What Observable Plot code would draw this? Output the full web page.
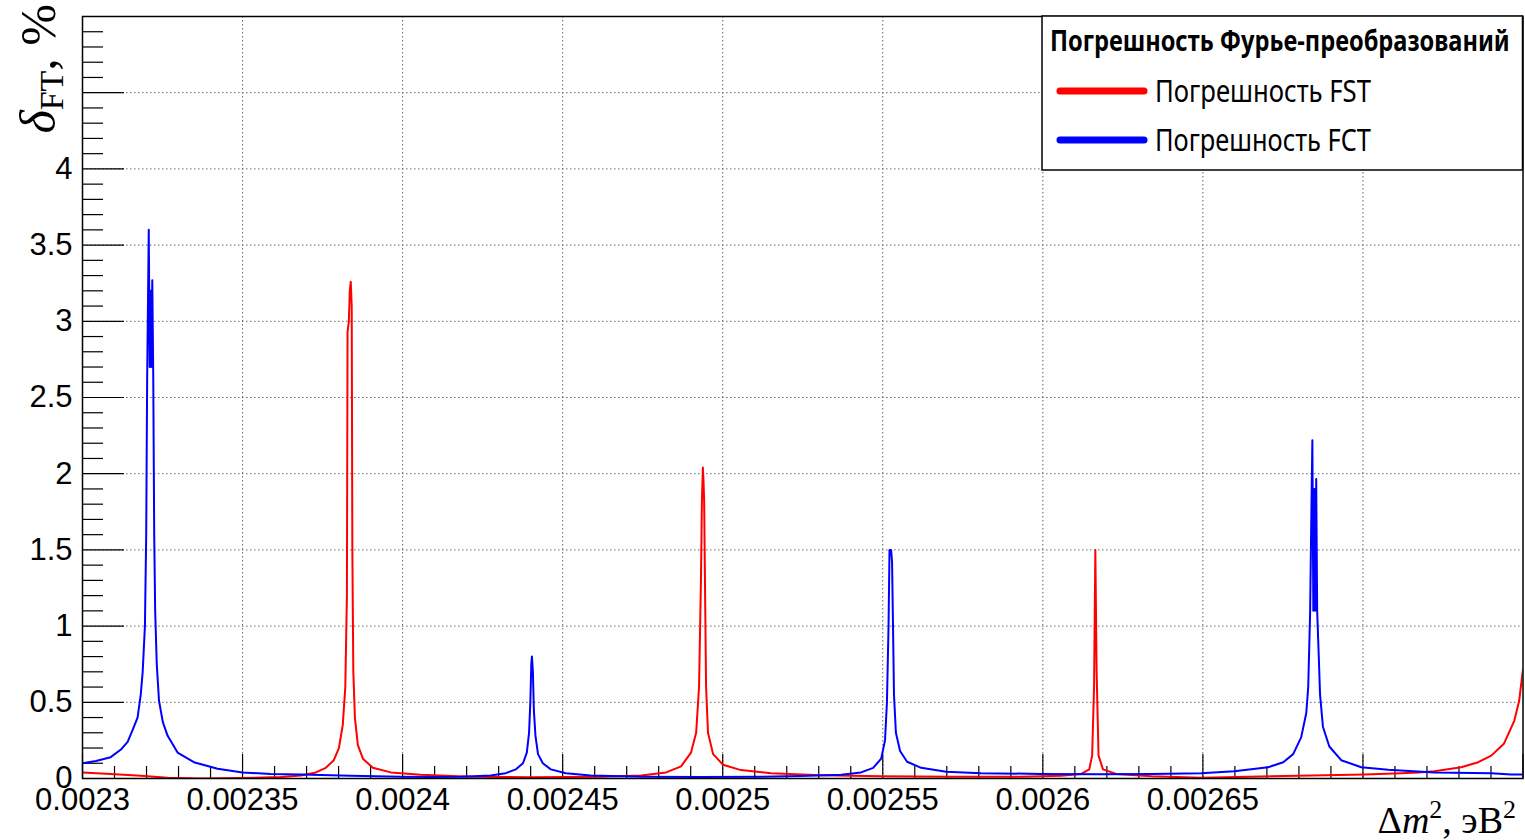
<!DOCTYPE html>
<html><head><meta charset="utf-8">
<script src="https://cdn.jsdelivr.net/npm/d3@7"></script>
<script src="https://cdn.jsdelivr.net/npm/@observablehq/plot@0.6"></script>
<style>html,body{margin:0;padding:0;background:#fff;} #chart{position:relative;width:1525px;height:840px;overflow:hidden;}</style>
</head><body><div id="chart"></div>
<script>
// ---- data ----
const fstX = [0.0023000,0.0023088,0.0023182,0.0023266,0.0023370,0.0023495,0.0023620,0.0023682,0.0023729,0.0023760,0.0023785,0.0023801,0.0023813,0.0023821,0.0023826,0.0023828,0.0023832,0.0023835,0.0023838,0.0023841,0.0023843,0.0023846,0.0023851,0.0023860,0.0023876,0.0023907,0.0023963,0.0024057,0.0024214,0.0024401,0.0024620,0.0024745,0.0024823,0.0024870,0.0024901,0.0024917,0.0024926,0.0024932,0.0024935,0.0024938,0.0024940,0.0024942,0.0024945,0.0024948,0.0024954,0.0024970,0.0025001,0.0025057,0.0025151,0.0025307,0.0025495,0.0025714,0.0025932,0.0026057,0.0026120,0.0026145,0.0026154,0.0026160,0.0026164,0.0026168,0.0026174,0.0026188,0.0026229,0.0026339,0.0026495,0.0026798,0.0027004,0.0027120,0.0027172,0.0027223,0.0027307,0.0027360,0.0027401,0.0027441,0.0027473,0.0027488,0.0027500];
const fstY = [0.04,0.03,0.018,0.005,0.0,0.003,0.01,0.02,0.04,0.07,0.12,0.2,0.35,0.6,1.2,2.93,3.0,3.2,3.26,3.1,1.5,0.7,0.4,0.22,0.13,0.07,0.04,0.025,0.012,0.008,0.012,0.02,0.04,0.08,0.17,0.3,0.6,1.3,1.82,2.04,1.95,1.82,1.2,0.6,0.3,0.16,0.09,0.055,0.035,0.022,0.015,0.012,0.012,0.018,0.03,0.06,0.15,0.6,1.5,0.7,0.15,0.06,0.03,0.015,0.005,0.018,0.026,0.035,0.04,0.048,0.074,0.107,0.15,0.23,0.38,0.51,0.72];

const fctX = [0.0023000,0.0023042,0.0023088,0.0023120,0.0023141,0.0023157,0.0023172,0.0023182,0.0023188,0.0023195,0.0023199,0.0023202,0.0023207,0.0023210,0.0023213,0.0023215,0.0023218,0.0023221,0.0023224,0.0023227,0.0023232,0.0023239,0.0023251,0.0023266,0.0023297,0.0023348,0.0023422,0.0023500,0.0023588,0.0023682,0.0023838,0.0023995,0.0024088,0.0024182,0.0024275,0.0024322,0.0024354,0.0024376,0.0024388,0.0024395,0.0024399,0.0024402,0.0024404,0.0024407,0.0024410,0.0024415,0.0024423,0.0024438,0.0024463,0.0024510,0.0024588,0.0024745,0.0024932,0.0025120,0.0025245,0.0025370,0.0025432,0.0025470,0.0025495,0.0025507,0.0025513,0.0025518,0.0025521,0.0025526,0.0025529,0.0025532,0.0025535,0.0025541,0.0025554,0.0025576,0.0025620,0.0025698,0.0025807,0.0025995,0.0026182,0.0026339,0.0026495,0.0026598,0.0026704,0.0026751,0.0026782,0.0026807,0.0026823,0.0026829,0.0026835,0.0026838,0.0026842,0.0026845,0.0026848,0.0026851,0.0026854,0.0026857,0.0026862,0.0026866,0.0026875,0.0026895,0.0026932,0.0026995,0.0027079,0.0027223,0.0027401,0.0027463,0.0027500];
const fctY = [0.10,0.115,0.14,0.19,0.24,0.32,0.40,0.55,0.70,1.0,1.6,2.63,3.6,2.7,3.2,2.7,3.27,2.65,1.6,1.1,0.75,0.51,0.37,0.28,0.17,0.107,0.064,0.04,0.03,0.026,0.018,0.012,0.01,0.012,0.02,0.035,0.06,0.1,0.17,0.3,0.5,0.75,0.80,0.7,0.45,0.28,0.16,0.1,0.06,0.035,0.02,0.012,0.01,0.012,0.016,0.025,0.04,0.07,0.13,0.25,0.5,1.0,1.5,1.5,1.42,1.0,0.55,0.3,0.18,0.11,0.07,0.045,0.035,0.03,0.028,0.03,0.035,0.048,0.074,0.107,0.16,0.27,0.43,0.6,1.09,1.6,2.22,1.1,1.9,1.1,1.965,1.1,0.8,0.55,0.34,0.21,0.12,0.074,0.057,0.04,0.035,0.026,0.026];

const xTickValues = [0.0023,0.00235,0.0024,0.00245,0.0025,0.00255,0.0026,0.00265];
const xTickLabels = ["0.0023","0.00235","0.0024","0.00245","0.0025","0.00255","0.0026","0.00265"];
const yTickValues = [0,0.5,1,1.5,2,2.5,3,3.5,4];
const yTickLabels = ["0","0.5","1","1.5","2","2.5","3","3.5","4"];
const xGridValues = [0.00235,0.0024,0.00245,0.0025,0.00255,0.0026,0.00265,0.0027];
const yGridValues = [0.5,1,1.5,2,2.5,3,3.5,4,4.5];
const legendTitle = "Погрешность Фурье-преобразований";
const seriesNames = ["Погрешность FST","Погрешность FCT"];
const seriesColors = ["#ff0000","#0000ff"];

// ---- derived ----
const fst = fstX.map((x,i)=>({x, y: fstY[i]}));
const fct = fctX.map((x,i)=>({x, y: fctY[i]}));
const xMajor = d3.range(0,10).map(i => (230 + 5*i)/100000);
const xMinor = d3.range(0,46).map(i => (230 + i)/100000).filter((d,i)=> i%5 !== 0);
const yMajor = d3.range(0,11).map(i => i/2);
const yMinor = d3.range(0,51).map(i => i/10).filter((d,i)=> i%5 !== 0);

const W = 1525, H = 840, mL = 82, mR = 2.5, mT = 16, mB = 62;
const pw = W - mL - mR, ph = H - mT - mB;

const plot = Plot.plot({
  width: W, height: H,
  marginLeft: mL, marginRight: mR, marginTop: mT, marginBottom: mB,
  style: {background: "#fff", fontFamily: "Liberation Sans, Arial, Helvetica, sans-serif", fontSize: "31px", color: "#000"},
  x: {domain: [0.0023, 0.00275], axis: null},
  y: {domain: [0, 5], axis: null},
  marks: [
    Plot.gridX(xGridValues, {stroke: "#666", strokeOpacity: 1, strokeWidth: 1, strokeDasharray: "1.5,2.5"}),
    Plot.gridY(yGridValues, {stroke: "#666", strokeOpacity: 1, strokeWidth: 1, strokeDasharray: "1.5,2.5"}),
    Plot.tickX(xMajor, {x: d => d, insetTop: ph - 24, stroke: "#000", strokeWidth: 1.2}),
    Plot.tickX(xMinor, {x: d => d, insetTop: ph - 12, stroke: "#000", strokeWidth: 1.2}),
    Plot.tickY(yMajor, {y: d => d, insetRight: pw - 42, stroke: "#000", strokeWidth: 1.2}),
    Plot.tickY(yMinor, {y: d => d, insetRight: pw - 21, stroke: "#000", strokeWidth: 1.2}),
    Plot.line(fst, {x: "x", y: "y", stroke: seriesColors[0], strokeWidth: 2, clip: true}),
    Plot.line(fct, {x: "x", y: "y", stroke: seriesColors[1], strokeWidth: 2, clip: true}),
    Plot.frame({stroke: "#000", strokeWidth: 1.5}),
    Plot.text(xTickValues, {x: d => d, frameAnchor: "bottom", lineAnchor: "top", dy: 9, text: d => xTickLabels[xTickValues.indexOf(d)], fontSize: 31}),
    Plot.text(yTickValues, {y: d => d, frameAnchor: "left", textAnchor: "end", dx: -10, text: d => yTickLabels[yTickValues.indexOf(d)], fontSize: 31})
  ]
});
document.getElementById("chart").appendChild(plot);

// ---- axis titles and legend ----
const svg = d3.select(plot);
const serif = "Liberation Serif, DejaVu Serif, Times New Roman, serif";
// y title (rotated)
const yt = svg.append("text").attr("transform", "translate(55,4) rotate(-90)")
  .attr("text-anchor", "end").attr("font-family", serif).attr("font-size", 50).attr("fill", "#000");
yt.append("tspan").attr("font-style", "italic").text("δ");
yt.append("tspan").attr("font-size", 34).attr("dy", 8).text("FT");
yt.append("tspan").attr("dy", -8).text(", %");
// x title
const xt = svg.append("text").attr("x", 1516).attr("y", 833)
  .attr("text-anchor", "end").attr("font-family", serif).attr("font-size", 38).attr("fill", "#000");
xt.append("tspan").text("Δ");
xt.append("tspan").attr("font-style", "italic").text("m");
xt.append("tspan").attr("font-size", 26).attr("dy", -15).text("2");
xt.append("tspan").attr("dy", 15).text(", эВ");
xt.append("tspan").attr("font-size", 26).attr("dy", -15).text("2");

// legend
const sans = "Noto Sans, Open Sans, sans-serif";
function squeezed(parent, x, y, str, size, weight, targetW) {
  const t = parent.append("text").attr("text-anchor", "start").attr("font-family", sans)
    .attr("font-weight", weight).attr("font-size", size).attr("fill", "#000").text(str);
  const natural = t.node().getComputedTextLength() || targetW;
  const k = Math.min(1, targetW / natural);
  t.attr("transform", `translate(${x},${y}) scale(${k},1)`);
  return t;
}
const lg = svg.append("g").attr("text-anchor", "start");
lg.append("rect").attr("x", 1042).attr("y", 16).attr("width", 480.5).attr("height", 154)
  .attr("fill", "#fff").attr("stroke", "#000").attr("stroke-width", 1.5);
squeezed(lg, 1050, 51, legendTitle, 29, "bold", 460);
seriesNames.forEach((name, i) => {
  const yy = 91 + i * 49;
  lg.append("line").attr("x1", 1060).attr("x2", 1144).attr("y1", yy).attr("y2", yy)
    .attr("stroke", seriesColors[i]).attr("stroke-width", 7).attr("stroke-linecap", "round");
  squeezed(lg, 1155, yy + 11, name, 31, "normal", 216);
});
</script>
</body></html>
